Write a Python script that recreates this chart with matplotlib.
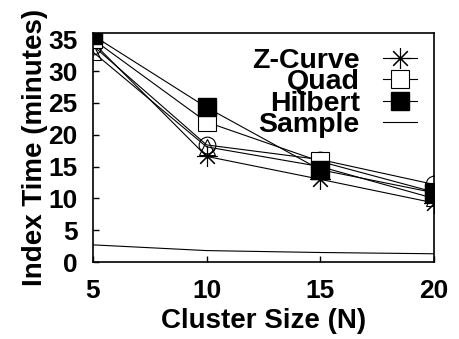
import matplotlib
matplotlib.use("Agg")
import matplotlib.pyplot as plt

plt.rcParams["font.family"] = ["Liberation Sans", "DejaVu Sans"]
plt.rcParams["font.weight"] = "bold"

cluster_size = [5, 10, 15, 20]

# index build time in minutes per curve
zcurve = [34.5, 16.6, 13.0, 9.3]
quad = [35.0, 22.0, 15.8, 11.0]
hilbert = [35.6, 24.3, 14.5, 10.9]
circle_run = [34.0, 18.4, 16.1, 12.2]
triangle_run = [33.0, 18.1, 15.0, 10.0]
sample = [2.7, 1.8, 1.5, 1.3]

fig = plt.figure(figsize=(4.6, 3.39), dpi=100)
ax = fig.add_axes([0.202, 0.227, 0.741, 0.676])

lw = 0.8
ax.plot(cluster_size, triangle_run, color="k", lw=lw, marker="^", ms=12,
        mfc="none", mec="k", mew=0.8)
ax.plot(cluster_size, circle_run, color="k", lw=lw, marker="o", ms=12,
        mfc="none", mec="k", mew=0.8)
ax.plot(cluster_size, zcurve, color="k", lw=lw, marker=(8, 2, 0), ms=15,
        mew=0.8, label="Z-Curve")
ax.plot(cluster_size, quad, color="k", lw=lw, marker="s", ms=12.5,
        mfc="white", mec="k", mew=0.8, label="Quad")
ax.plot(cluster_size, hilbert, color="k", lw=lw, marker="s", ms=12.5,
        mfc="k", mec="k", label="Hilbert")
ax.plot(cluster_size, sample, color="k", lw=lw, label="Sample")

ax.set_xlim(5, 20)
ax.set_ylim(0, 36)
ax.set_xticks([5, 10, 15, 20])
ax.set_yticks(range(0, 36, 5))
ax.tick_params(direction="in", length=4, width=1, labelsize=19)
ax.tick_params(axis="y", pad=11)
ax.tick_params(axis="x", pad=12)
for s in ax.spines.values():
    s.set_linewidth(1.2)

ax.set_xlabel("Cluster Size (N)", fontsize=20, fontweight="bold", labelpad=4)
ax.set_ylabel("Index Time (minutes)", fontsize=20, fontweight="bold", labelpad=0)

leg = ax.legend(loc="upper right", frameon=False, markerfirst=False,
                fontsize=20.5, handlelength=1.2, handletextpad=0.8,
                labelspacing=-0.16, borderpad=0, borderaxespad=0,
                bbox_to_anchor=(0.95, 0.935))
for t in leg.get_texts():
    t.set_ha("right")

fig.savefig("out.png", dpi=100)
